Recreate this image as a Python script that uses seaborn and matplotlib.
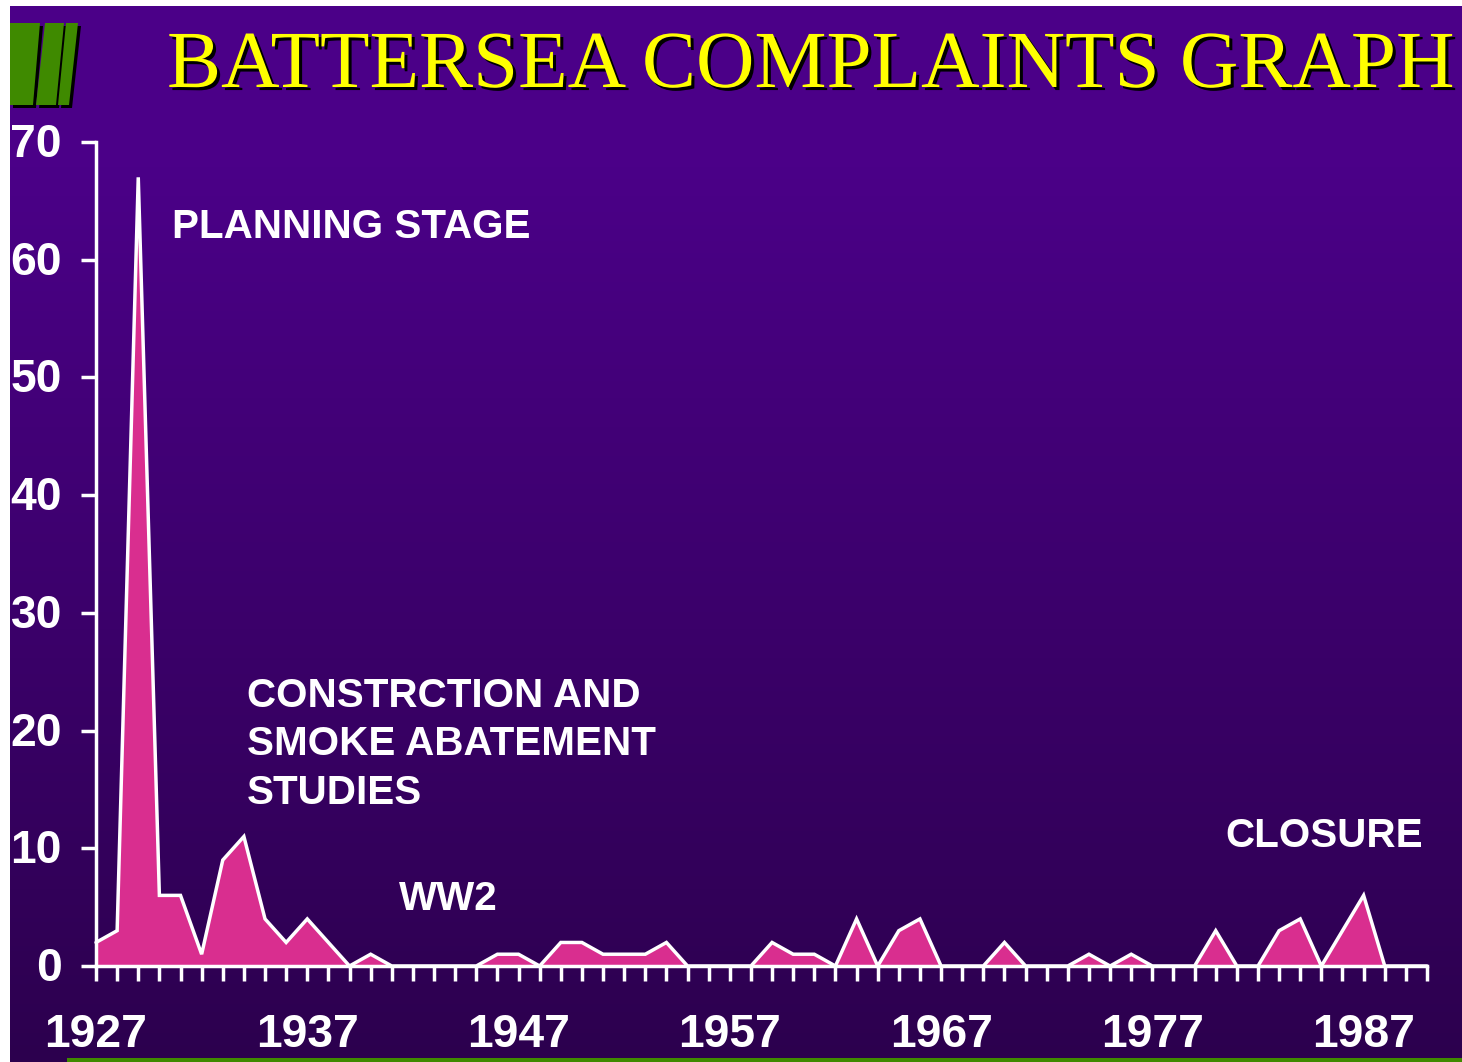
import numpy as np
import pandas as pd
import matplotlib
matplotlib.use("Agg")
import matplotlib.pyplot as plt
import matplotlib.patheffects as pe
from matplotlib.colors import LinearSegmentedColormap
from matplotlib.patches import Polygon, Rectangle
from matplotlib.ticker import MultipleLocator
from matplotlib.transforms import ScaledTranslation
import seaborn as sns

years = list(range(1927, 1991))
complaints = [2, 3, 67, 6, 6, 1, 9, 11, 4, 2, 4, 2, 0, 1, 0, 0, 0, 0, 0, 1, 1, 0,
              2, 2, 1, 1, 1, 2, 0, 0, 0, 0, 2, 1, 1, 0, 4, 0, 3, 4, 0, 0, 0, 2,
              0, 0, 0, 1, 0, 1, 0, 0, 0, 3, 0, 0, 3, 4, 0, 3, 6, 0, 0, 0]
x_tick_labels = [1927, 1937, 1947, 1957, 1967, 1977, 1987]
y_tick_labels = [0, 10, 20, 30, 40, 50, 60, 70]
title = "BATTERSEA COMPLAINTS GRAPH"
notes = ["PLANNING STAGE", "CONSTRCTION AND", "SMOKE ABATEMENT", "STUDIES", "WW2", "CLOSURE"]

W, H = 1462, 1062
sns.set_theme(style="white")
plt.rcParams["font.family"] = ["Liberation Sans", "DejaVu Sans"]

fig = plt.figure(figsize=(W / 100, H / 100), dpi=100, facecolor="white")


def fx(px):
    return px / W


def fy(py):
    return 1 - py / H


# Background gradient panel
bg = fig.add_axes([fx(10), 0, 1 - fx(10), fy(6)], zorder=0)
cmap = LinearSegmentedColormap.from_list("bg", [(0, "#4B0088"), (0.15, "#4B0088"), (1, "#2C004E")])
bg.imshow(np.linspace(0, 1, 256).reshape(-1, 1), aspect="auto", cmap=cmap)
bg.axis("off")

# Decorative logo and bottom rule, in figure pixels
logo = [[(10, 23), (40, 23), (33, 105), (10, 105)],
        [(45, 23), (64, 23), (56, 105), (36, 105)],
        [(66, 23), (78, 23), (69, 105), (58, 105)]]
for pts in logo:
    shadow = [(fx(a + 3), fy(b + 3)) for a, b in pts]
    fig.add_artist(Polygon(shadow, closed=True, transform=fig.transFigure, fc="black", ec="none", zorder=1))
for pts in logo:
    face = [(fx(a), fy(b)) for a, b in pts]
    fig.add_artist(Polygon(face, closed=True, transform=fig.transFigure, fc="#3F8A00", ec="none", zorder=2))
fig.add_artist(Rectangle((fx(67), 0), 1 - fx(67), 4 / H, transform=fig.transFigure,
                         fc="#3F8A00", ec="none", zorder=2))

# Chart
ax = fig.add_axes([fx(96), fy(966), (1427 - 96) / W, (966 - 142) / H], zorder=3)
ax.patch.set_alpha(0)
df = pd.DataFrame({"year": years, "complaints": complaints})
ax.fill_between(df["year"], df["complaints"], 0, color="#D92E8F", lw=0, zorder=2)
sns.lineplot(data=df, x="year", y="complaints", ax=ax, color="white", lw=2.5,
             zorder=3, errorbar=None, solid_joinstyle="miter", clip_on=False)
ax.set_xlim(years[0], years[-1])
ax.set_ylim(y_tick_labels[0], y_tick_labels[-1])
ax.set_xlabel("")
ax.set_ylabel("")
ax.set_xticks(x_tick_labels)
ax.xaxis.set_minor_locator(MultipleLocator(1))
ax.set_yticks(y_tick_labels)
for s in ["top", "right"]:
    ax.spines[s].set_visible(False)
for s in ["left", "bottom"]:
    ax.spines[s].set_color("white")
    ax.spines[s].set_linewidth(2.5)
    ax.spines[s].set_zorder(4)
ax.tick_params(axis="x", which="both", direction="out", length=11, width=2.5, color="white", bottom=True)
ax.tick_params(axis="x", which="major", labelsize=33.3, labelcolor="white", pad=23)
ax.tick_params(axis="y", which="major", direction="out", length=10.5, width=2.5, color="white",
               left=True, labelsize=33.3, labelcolor="white", pad=14)
for lab in ax.get_xticklabels() + ax.get_yticklabels():
    lab.set_fontweight("bold")
lift = ScaledTranslation(0, 2 / 100, fig.dpi_scale_trans)
for lab in ax.get_yticklabels():
    lab.set_transform(lab.get_transform() + lift)

# Title and annotations
title_text = fig.text(fx(167), fy(87), title, family="Liberation Serif", fontsize=60, color="#FFFF00",
                      ha="left", va="baseline", zorder=5,
                      path_effects=[pe.withSimplePatchShadow(offset=(2.2, -2.2), shadow_rgbFace="black", alpha=1.0)])
renderer = fig.canvas.get_renderer()
title_text.set_fontsize(60 * 1288 / title_text.get_window_extent(renderer).width)

positions = [(172, 238), (247, 707), (247, 755), (247, 804), (399, 910), (1225, 847)]
for label, (px, py) in zip(notes, positions):
    fig.text(fx(px), fy(py), label, fontsize=29.1, fontweight="bold", color="white",
             ha="left", va="baseline", zorder=5)

fig.savefig("out.png", dpi=100, facecolor="white")
